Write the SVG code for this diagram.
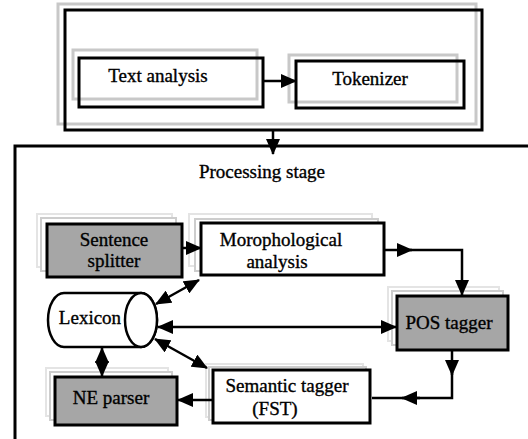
<svg xmlns="http://www.w3.org/2000/svg" width="528" height="439" viewBox="0 0 528 439">
<style>
.bk{fill:none;stroke:#000;stroke-width:3}
.gr{fill:none;stroke:#c8c8c8;stroke-width:3}
.sh1{fill:#fff;stroke:#e4e4e4;stroke-width:2}
.sh2{fill:#fff;stroke:#cdcdcd;stroke-width:2}
.wn{fill:#fff;stroke:#000;stroke-width:3}
.gn{fill:#a6a6a6;stroke:#000;stroke-width:3}
.c{fill:none;stroke:#000;stroke-width:2.5}
.e{marker-end:url(#ah)}
.b{marker-start:url(#ah);marker-end:url(#ah)}
</style>
<defs>
<marker id="ah" markerUnits="userSpaceOnUse" viewBox="0 0 16 14" refX="15" refY="7" markerWidth="16" markerHeight="14" orient="auto-start-reverse">
<path d="M0,0 L16,7 L0,14 z" fill="#000"/>
</marker>
</defs>
<g font-family="Liberation Serif, Times New Roman, serif" font-size="19" text-anchor="middle" fill="#000" stroke-width="0.35">
<g id="text-stage">
<rect class="gr" x="58" y="4" width="418" height="120"/>
<rect class="bk" x="65" y="10" width="417" height="120"/>
</g>
<g id="text-analysis">
<rect class="gr" x="73" y="50" width="184" height="49"/>
<rect class="bk" x="79" y="58" width="184" height="49"/>
<text x="158" y="82" stroke="#000">Text analysis</text>
</g>
<g id="tokenizer">
<rect class="gr" x="289" y="55" width="168" height="47"/>
<rect class="bk" x="296" y="61" width="168" height="47"/>
<text x="370" y="85" stroke="#000">Tokenizer</text>
</g>

<g id="processing-stage">
<path class="bk" d="M15,439 L15,146 L530,146"/>
<text x="262" y="178" stroke="#000">Processing stage</text>
</g>

<g id="sentence-splitter">
<rect class="sh1" x="37" y="214" width="135" height="53"/>
<rect class="sh2" x="41" y="218" width="135" height="53"/>
<rect class="gn" x="47" y="224" width="135" height="53"/>
<text x="114" y="246" stroke="#000">Sentence</text>
<text x="114" y="267" stroke="#000">splitter</text>
</g>
<g id="morphological-analysis">
<rect class="sh1" x="189" y="214" width="183" height="52"/>
<rect class="sh2" x="195" y="219" width="183" height="52"/>
<rect class="wn" x="201" y="223" width="183" height="52"/>
<text x="281" y="246" stroke="#000">Morophological</text>
<text x="277" y="268" stroke="#000">analysis</text>
</g>
<g id="pos-tagger">
<rect class="sh1" x="388" y="287" width="111" height="54"/>
<rect class="sh2" x="392" y="291" width="111" height="54"/>
<rect class="gn" x="397" y="296" width="111" height="54"/>
<text x="449" y="329" stroke="#000">POS tagger</text>
</g>
<g id="lexicon">
<path d="M64,293 L141,293 A16,27 0 0 1 141,347 L64,347 A16,27 0 0 1 64,293 z" fill="#fff" stroke="#000" stroke-width="2.5"/>
<ellipse cx="141" cy="320" rx="16" ry="27" fill="#fff" stroke="#000" stroke-width="2.5"/>
<text x="90" y="324" stroke="#000">Lexicon</text>
</g>
<g id="ne-parser">
<rect class="sh1" x="46" y="368" width="122" height="48"/>
<rect class="sh2" x="50" y="372" width="122" height="48"/>
<rect class="gn" x="55" y="377" width="122" height="48"/>
<text x="111" y="404" stroke="#000">NE parser</text>
</g>
<g id="semantic-tagger">
<rect class="sh1" x="206" y="364" width="157" height="53"/>
<rect class="sh2" x="209" y="367" width="157" height="53"/>
<rect class="wn" x="213" y="370" width="157" height="53"/>
<text x="287" y="392" stroke="#000">Semantic tagger</text>
<text x="275" y="415" stroke="#000">(FST)</text>
</g>
</g>
<g id="connectors">
<line class="c e" x1="263" y1="81" x2="296" y2="81"/>
<line class="c e" x1="273" y1="131" x2="273" y2="154"/>
<line class="c e" x1="182" y1="248" x2="201" y2="248"/>
<line class="c e" x1="384" y1="250" x2="412" y2="250"/>
<polyline class="c e" points="410,250 462,250 462,295"/>
<line class="c b" x1="156" y1="304" x2="199" y2="280"/>
<line class="c b" x1="158" y1="327" x2="396" y2="327"/>
<line class="c b" x1="155" y1="339" x2="207" y2="368"/>
<line class="c b" x1="102" y1="348" x2="102" y2="376"/>
<line class="c e" x1="452" y1="351" x2="452" y2="375"/>
<polyline class="c" points="452,372 452,398 372,398"/>
<line class="c e" x1="420" y1="398" x2="402" y2="398"/>
<line class="c e" x1="213" y1="400" x2="178" y2="400"/>
</g>
</svg>
